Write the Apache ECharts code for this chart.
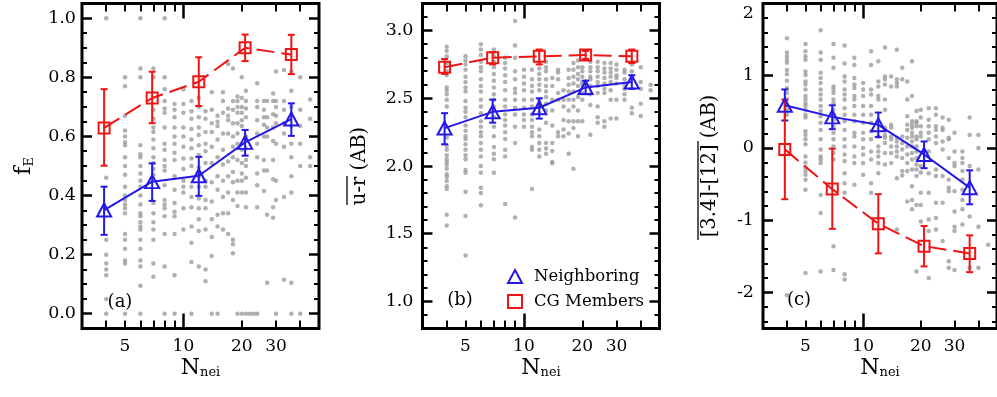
<!DOCTYPE html>
<html><head><meta charset="utf-8">
<script src="https://cdn.jsdelivr.net/npm/echarts@6/dist/echarts.min.js"></script>
<style>html,body{margin:0;padding:0;background:#fff}#c{width:997px;height:397px}</style>
</head><body><div id="c"></div>
<script>
// ---------------- data ----------------
const binN = [3.9, 6.9, 12, 20.8, 36];

const neiA = [0.351, 0.447, 0.467, 0.580, 0.659];
const neiAHi = [0.430, 0.509, 0.531, 0.622, 0.712];
const neiALo = [0.267, 0.382, 0.399, 0.535, 0.602];
const cgA = [0.629, 0.730, 0.785, 0.900, 0.877];
const cgAHi = [0.760, 0.819, 0.868, 0.945, 0.944];
const cgALo = [0.501, 0.645, 0.703, 0.855, 0.811];

const neiB = [2.28, 2.40, 2.43, 2.58, 2.62];
const neiBHi = [2.39, 2.49, 2.50, 2.63, 2.67];
const neiBLo = [2.16, 2.32, 2.35, 2.53, 2.57];
const cgB = [2.73, 2.80, 2.81, 2.82, 2.81];
const cgBHi = [2.79, 2.84, 2.86, 2.85, 2.86];
const cgBLo = [2.68, 2.75, 2.75, 2.79, 2.76];

const neiC = [0.59, 0.43, 0.32, -0.09, -0.55];
const neiCHi = [0.81, 0.59, 0.49, 0.09, -0.31];
const neiCLo = [0.38, 0.26, 0.15, -0.28, -0.78];
const cgC = [-0.02, -0.57, -1.05, -1.36, -1.46];
const cgCHi = [0.67, -0.01, -0.64, -1.08, -1.21];
const cgCLo = [-0.71, -1.12, -1.46, -1.64, -1.72];

// individual groups: [N_nei, [values...]]
const grayA = [
[4,[1.0,0.46,0.25,0.20,0.17,0.15,0.13,0.05,0.0]],
[5,[0.80,0.77,0.67,0.62,0.60,0.58,0.57,0.53,0.50,0.47,0.43,0.40,0.385,0.37,0.357,0.34,0.27,0.25,0.22,0.18,0.17,0.0]],
[6,[1.0,0.83,0.80,0.57,0.54,0.53,0.50,0.475,0.45,0.43,0.40,0.37,0.34,0.33,0.31,0.295,0.285,0.25,0.22,0.18,0.16,0.095,0.0]],
[7,[0.83,0.80,0.69,0.66,0.63,0.615,0.59,0.56,0.53,0.51,0.49,0.47,0.375,0.34,0.31,0.285,0.25,0.17,0.125]],
[8,[1.0,0.80,0.76,0.72,0.695,0.68,0.63,0.575,0.555,0.52,0.50,0.485,0.435,0.385,0.37,0.357,0.33,0.27,0.16,0.0]],
[9,[0.71,0.69,0.665,0.63,0.60,0.575,0.545,0.52,0.465,0.42,0.375,0.345,0.33,0.27,0.13,0.0]],
[10,[0.76,0.71,0.68,0.63,0.60,0.565,0.525,0.49,0.45,0.43,0.41,0.357,0.285]],
[11,[0.72,0.685,0.66,0.625,0.59,0.56,0.525,0.50,0.43,0.395,0.36,0.295,0.24,0.175,0.0]],
[12,[0.73,0.70,0.665,0.63,0.605,0.57,0.537,0.495,0.465,0.43,0.39,0.357,0.32,0.28,0.16]],
[13,[0.685,0.66,0.615,0.575,0.55,0.51,0.45,0.43,0.385,0.357,0.285,0.15,0.11]],
[14,[0.75,0.69,0.645,0.615,0.565,0.51,0.445,0.38,0.32,0.26,0.195,0.0]],
[15,[0.67,0.65,0.635,0.59,0.53,0.465,0.42,0.335,0.295,0.0]],
[16,[0.75,0.72,0.68,0.61,0.555,0.505,0.45,0.395,0.34,0.285]],
[17,[0.845,0.695,0.67,0.655,0.61,0.515,0.465,0.41,0.34,0.27]],
[18,[0.83,0.72,0.69,0.645,0.60,0.565,0.53,0.48,0.445,0.385,0.25,0.235,0.205]],
[19,[0.735,0.72,0.70,0.68,0.645,0.61,0.575,0.52,0.45,0.41,0.365,0.0]],
[20,[0.80,0.73,0.70,0.68,0.655,0.635,0.555,0.51,0.475,0.45,0.41,0.0]],
[21,[0.755,0.72,0.695,0.665,0.60,0.56,0.52,0.50,0.46,0.41,0.36,0.0]],
[22,[0.0]],[23,[0.0]],
[24,[0.78,0.72,0.70,0.655,0.61,0.575,0.53,0.475,0.435,0.36,0.0]],
[26,[0.72,0.69,0.665,0.64,0.60,0.52,0.485,0.415]],
[27,[0.72,0.665,0.63,0.60,0.485,0.335,0.105]],
[29,[0.745,0.72,0.675,0.63,0.585,0.52,0.455,0.36,0.325]],
[30,[0.82,0.72,0.70,0.67,0.645,0.575,0.45,0.385,0.0]],
[33,[0.825,0.72,0.69,0.645,0.61,0.565,0.395,0.115]],
[36,[0.82,0.755,0.70,0.635,0.575,0.53,0.465,0.41,0.105,0.0]],
[40,[0.80,0.69,0.635,0.575,0.50,0.0]],
[45,[0.725,0.66,0.53,0.50]]
];
const grayB = [
[4,[2.88,2.85,2.81,2.76,2.70,2.67,2.58,2.56,2.53,2.49,2.44,2.21,2.15,2.12,2.08,2.05,2.03,2.01,1.98,1.94,1.92,1.89,1.85,1.83,1.64,1.56]],
[5,[2.81,2.78,2.75,2.71,2.66,2.62,2.58,2.55,2.48,2.43,2.40,2.36,2.30,2.26,2.22,2.20,2.16,2.12,2.08,2.05,1.97,1.95,1.81,1.63,1.34]],
[6,[2.90,2.86,2.82,2.77,2.73,2.70,2.64,2.59,2.55,2.49,2.44,2.39,2.33,2.29,2.25,2.22,2.17,2.12,2.07,2.00,1.95,1.84,1.80,1.71]],
[7,[2.86,2.81,2.77,2.73,2.68,2.63,2.58,2.53,2.49,2.44,2.36,2.29,2.22,2.14,2.09,2.05,1.95]],
[8,[2.80,2.76,2.72,2.67,2.62,2.56,2.49,2.44,2.38,2.34,2.30,2.25,2.20,2.12,2.07,1.72]],
[9,[3.07,2.89,2.80,2.70,2.64,2.57,2.54,2.49,2.43,2.38,2.29,2.17,1.62]],
[10,[2.71,2.66,2.61,2.56,2.49,2.43,2.38,2.34,2.29]],
[11,[2.71,2.64,2.59,2.55,2.49,2.44,2.38,2.34,2.29,2.25,2.22,2.14,2.12,1.83]],
[12,[2.76,2.72,2.68,2.64,2.60,2.56,2.49,2.45,2.39,2.27,2.22,2.17,2.12,2.07]],
[13,[2.77,2.73,2.70,2.64,2.59,2.55,2.51,2.46,2.41,2.32,2.17,2.13,2.09]],
[14,[2.65,2.59,2.49,2.41,2.30,2.17,2.11,2.03,2.02]],
[15,[2.71,2.69,2.64,2.54,2.49,2.25,2.22]],
[16,[2.56,2.49,2.44,2.34,2.27,2.22]],
[17,[2.71,2.65,2.60,2.55,2.49,2.41,2.33,2.24,2.09]],
[18,[2.76,2.71,2.66,2.61,2.55,2.49,2.44,2.33,2.28,1.98]],
[19,[2.78,2.73,2.68,2.64,2.59,2.51,2.41,2.33,2.22]],
[20,[2.73,2.70,2.66,2.62,2.60,2.54,2.49,2.33]],
[22,[2.77,2.73,2.70,2.66,2.64,2.59,2.53,2.45,2.23]],
[24,[2.77,2.73,2.70,2.66,2.62,2.59,2.54,2.44,2.36,2.32]],
[26,[2.76,2.72,2.69,2.65,2.61,2.57,2.54,2.33,2.29]],
[28,[2.76,2.72,2.69,2.66,2.62,2.56,2.49,2.35]],
[30,[2.75,2.71,2.67,2.65,2.61,2.49,2.35]],
[33,[2.71,2.69,2.64,2.60,2.57,2.53,2.49]],
[36,[2.75,2.70,2.66,2.43,2.39]],
[40,[2.73,2.62,2.57,2.46,2.37]],
[45,[2.60,2.56]]
];
const grayC = [
[4,[1.52,1.32,1.27,1.22,1.18,1.08,1.02,0.93,0.83,0.76,0.67,0.60,0.53,0.46,-2.04]],
[5,[1.44,1.34,1.27,1.22,1.06,1.01,0.92,0.88,0.81,0.72,0.67,0.62,0.58,0.53,0.46,0.42,0.23,0.18,0.12,0.05,-0.12,-0.20,-0.27,-0.32,-0.37,-0.44,-0.58,-1.73]],
[6,[1.63,1.32,1.22,1.04,0.97,0.90,0.81,0.74,0.67,0.58,0.51,0.44,0.35,0.25,0.12,-0.02,-0.12,-0.16,-0.21,-0.65,-0.90,-1.71]],
[7,[1.44,1.25,1.11,0.85,0.81,0.76,0.67,0.62,0.53,0.46,0.39,0.30,0.21,0.12,0.02,-0.07,-0.16,-1.36,-1.69]],
[8,[1.42,1.17,0.99,0.92,0.81,0.74,0.67,0.55,0.46,0.37,0.25,0.12,0.02,-0.09,-0.18,-0.35,-0.49,-0.62,-1.75,-1.82]],
[9,[1.25,1.15,0.97,0.88,0.83,0.72,0.67,0.58,0.46,0.37,0.21,0.16,0.02,-0.12,-0.21,-0.51]],
[10,[0.90,0.81,0.72,0.58,0.46,0.35,0.21,0.12,0.0,-0.09,-0.21,-0.37]],
[11,[1.34,1.15,0.81,0.74,0.58,0.46,0.35,0.23,0.12,-0.05,-0.16,-0.49,-0.62]],
[12,[1.20,0.92,0.85,0.72,0.67,0.16,0.02,-0.05,-0.12,-0.21,-0.35]],
[13,[1.39,0.99,0.95,0.88,0.67,0.53,0.28,0.18,0.14,0.07,-0.07,-0.23]],
[14,[0.99,0.85,0.32,0.28,0.16,0.12,0.02,-0.07,-0.21]],
[15,[1.36,0.95,0.90,0.85,0.14,0.09,0.02,-0.05,-0.12,-0.42,-1.13]],
[16,[1.11,0.95,0.16,0.07,-0.02,-0.14,-0.32,-0.38]],
[17,[0.92,0.67,0.44,0.32,0.25,0.14,0.02,-0.09,-0.21,-0.32,-0.74]],
[18,[1.20,0.72,0.37,0.32,0.28,0.21,0.16,0.09,0.02,-0.07,-0.16,-0.30,-0.53,-0.72,-0.85]],
[19,[0.51,0.37,0.35,0.30,0.16,0.12,0.02,-0.05,-0.14,-0.23,-0.30,-0.39,-0.79,-1.71]],
[20,[0.53,0.42,0.30,0.21,0.16,-0.25,-0.34,-0.62,-0.79,-1.02]],
[22,[0.55,0.39,0.30,0.21,0.12,-0.05,-0.35,-0.62,-0.99,-1.15,-1.80]],
[24,[0.55,0.46,0.30,0.25,0.16,0.07,-0.30,-0.39,-0.76,-0.97,-1.13]],
[26,[0.42,0.28,0.25,0.09,-0.02,-0.39,-0.76,-1.29]],
[28,[0.39,0.14,0.12,-0.14,-0.44,-0.55,-0.60,-1.57,-1.66]],
[30,[0.21,-0.05,-0.21,-0.25,-0.60,-0.88,-1.09,-1.15,-1.69]],
[33,[-0.05,-0.14,-0.21,-0.32,-0.44,-0.58,-0.72,-0.85,-1.06]],
[36,[0.42,0.18,-0.25,-0.95,-1.66]],
[40,[0.18,0.0,-0.30,-1.09,-1.66]],
[45,[-1.34]]
];

// ticks / labels
const xTicksShort = [4, 5, 6, 7, 8, 9, 20, 30, 40];
const xTicksLong = [10];
const xLabels = [5, 10, 20, 30];
const yMajorA = [0, 0.2, 0.4, 0.6, 0.8, 1.0];
const yMinorA = [0.05,0.1,0.15,0.25,0.3,0.35,0.45,0.5,0.55,0.65,0.7,0.75,0.85,0.9,0.95];
const yMajorB = [1.0, 1.5, 2.0, 2.5, 3.0];
const yMinorB = [0.9,1.1,1.2,1.3,1.4,1.6,1.7,1.8,1.9,2.1,2.2,2.3,2.4,2.6,2.7,2.8,2.9,3.1];
const yMajorC = [-2, -1, 0, 1, 2];
const yMinorC = [-2.4,-2.2,-1.8,-1.6,-1.4,-1.2,-0.8,-0.6,-0.4,-0.2,0.2,0.4,0.6,0.8,1.2,1.4,1.6,1.8];

// ---------------- build ----------------
const FONT = '"DejaVu Serif", serif';
const BLUE = '#2418e6', RED = '#f01414', GRAY = '#9c9c9c';
const L = v => Math.log10(v);

const panels = [
  {left: 82, yMin: -0.05, yMax: 1.05, major: yMajorA, minor: yMinorA, fmt: v => v.toFixed(1), lblMargin: 6,
   name: '{f|f}{s|E}', nameGap: 46, gray: grayA, nei: [neiA, neiALo, neiAHi], cg: [cgA, cgALo, cgAHi]},
  {left: 422.5, yMin: 0.8, yMax: 3.2, major: yMajorB, minor: yMinorB, fmt: v => v.toFixed(1), lblMargin: 9,
   name: '{t|u-r (AB)}', nameGap: 52, gray: grayB, nei: [neiB, neiBLo, neiBHi], cg: [cgB, cgBLo, cgBHi]},
  {left: 763, yMin: -2.5, yMax: 2, major: yMajorC, minor: yMinorC, fmt: v => (v === 2 ? '{top|2}' : String(v)), lblMargin: 9,
   name: '{t|[3.4]-[12] (AB)}', nameGap: 42, gray: grayC, nei: [neiC, neiCLo, neiCHi], cg: [cgC, cgCLo, cgCHi]}
];

const grids = [], xAxes = [], yAxes = [], series = [];
const nameRich = {
  f: {fontFamily: FONT, fontSize: 23, lineHeight: 26, verticalAlign: 'bottom', color: '#000'},
  s: {fontFamily: FONT, fontSize: 13, lineHeight: 8, verticalAlign: 'bottom', color: '#000'},
  N: {fontFamily: FONT, fontSize: 22, lineHeight: 24, verticalAlign: 'bottom', color: '#000'},
  t: {fontFamily: FONT, fontSize: 19.5, lineHeight: 22, color: '#000'}
};

function errRender(color) {
  return function (params, api) {
    const x = api.value(0), lo = api.value(1), hi = api.value(2);
    const a = api.coord([x, lo]), b = api.coord([x, hi]);
    const cw = 3.5;
    const st = {stroke: color, lineWidth: 2, fill: null};
    return {type: 'group', children: [
      {type: 'line', shape: {x1: a[0], y1: a[1], x2: b[0], y2: b[1]}, style: st},
      {type: 'line', shape: {x1: a[0] - cw, y1: a[1], x2: a[0] + cw, y2: a[1]}, style: st},
      {type: 'line', shape: {x1: b[0] - cw, y1: b[1], x2: b[0] + cw, y2: b[1]}, style: st}
    ]};
  };
}

panels.forEach((p, i) => {
  grids.push({left: p.left, top: 3.5, width: 237, height: 325, show: true,
    borderColor: '#000', borderWidth: 3, backgroundColor: 'transparent', z: 10});
  const xb = {type: 'value', gridIndex: i, min: L(3), max: L(50), nameMoveOverlap: false,
    axisLine: {show: false, onZero: false}, splitLine: {show: false}, axisLabel: {show: false}};
  const tk = (vals, len, w) => ({show: true, inside: true, length: len, customValues: vals.map(L),
    lineStyle: {color: '#000', width: w}});
  xAxes.push(Object.assign({}, xb, {position: 'bottom', axisTick: tk(xTicksShort, 8, 2),
    axisLabel: {show: true, customValues: xLabels.map(L), formatter: v => String(Math.round(Math.pow(10, v))),
      margin: 10, fontFamily: FONT, fontSize: 17, color: '#000'},
    name: '{N|N}{s|nei}', nameLocation: 'middle', nameGap: 27, nameTextStyle: {rich: nameRich}}));
  xAxes.push(Object.assign({}, xb, {position: 'bottom', axisTick: tk(xTicksLong, 15, 2.5)}));
  xAxes.push(Object.assign({}, xb, {position: 'top', axisTick: tk(xTicksShort, 8, 2)}));
  xAxes.push(Object.assign({}, xb, {position: 'top', axisTick: tk(xTicksLong, 15, 2.5)}));

  const yb = {type: 'value', gridIndex: i, min: p.yMin, max: p.yMax, nameMoveOverlap: false,
    axisLine: {show: false, onZero: false}, splitLine: {show: false}, axisLabel: {show: false}};
  const ytk = (vals, len, w) => ({show: true, inside: true, length: len, customValues: vals,
    lineStyle: {color: '#000', width: w}});
  yAxes.push(Object.assign({}, yb, {position: 'left', axisTick: ytk(p.major, 10, 2.5),
    axisLabel: {show: true, customValues: p.major, formatter: p.fmt, margin: p.lblMargin,
      fontFamily: FONT, fontSize: 17.5, color: '#000',
      rich: {top: {fontFamily: FONT, fontSize: 17.5, color: '#000', padding: [20, 0, 0, 0]}}},
    name: p.name, nameLocation: 'middle', nameGap: p.nameGap, nameTextStyle: {rich: nameRich}}));
  yAxes.push(Object.assign({}, yb, {position: 'left', axisTick: ytk(p.minor, 5, 2)}));
  yAxes.push(Object.assign({}, yb, {position: 'right', axisTick: ytk(p.major, 10, 2.5)}));
  yAxes.push(Object.assign({}, yb, {position: 'right', axisTick: ytk(p.minor, 5, 2)}));

  const xi = i * 4, yi = i * 4;
  const pts = [];
  p.gray.forEach(([n, vals]) => vals.forEach(v => pts.push([L(n), v])));
  series.push({type: 'scatter', name: 'groups', xAxisIndex: xi, yAxisIndex: yi, data: pts,
    symbolSize: 4.5, itemStyle: {color: GRAY}, silent: true, z: 1});

  [[p.nei, BLUE, 'Neighboring', 'triangle', [14, 13], 'solid'],
   [p.cg, RED, 'CG Members', 'rect', 11, [18, 7]]].forEach(([d, col, nm, sym, sz, lt]) => {
    series.push({type: 'custom', name: nm + ' err', xAxisIndex: xi, yAxisIndex: yi,
      data: binN.map((n, k) => [L(n), d[1][k], d[2][k]]), encode: {x: 0, y: [1, 2]},
      renderItem: errRender(col), silent: true, z: 3});
    series.push({type: 'line', name: nm, xAxisIndex: xi, yAxisIndex: yi,
      data: binN.map((n, k) => [L(n), d[0][k]]), symbol: sym, symbolSize: sz,
      itemStyle: {color: 'rgba(0,0,0,0)', borderColor: col, borderWidth: 2},
      lineStyle: {color: col, width: 2, type: lt}, silent: true, z: 4});
  });
});

const chart = echarts.init(document.getElementById('c'), null, {renderer: 'canvas'});
chart.setOption({
  animation: false,
  backgroundColor: '#fff',
  grid: grids, xAxis: xAxes, yAxis: yAxes, series: series,
  legend: {left: 507, top: 268, padding: 0, orient: 'vertical', itemWidth: 14, itemHeight: 13, itemGap: 8,
    selectedMode: false,
    textStyle: {fontFamily: FONT, fontSize: 16.5, color: '#000', lineHeight: 17, padding: [0, 0, 0, 7]},
    data: [
      {name: 'Neighboring', icon: 'triangle', itemStyle: {color: 'rgba(0,0,0,0)', borderColor: BLUE, borderWidth: 2}},
      {name: 'CG Members', icon: 'rect', itemStyle: {color: 'rgba(0,0,0,0)', borderColor: RED, borderWidth: 2}}
    ]},
  graphic: [
    {type: 'text', x: 120, y: 302, style: {text: '(a)', font: '18px "DejaVu Serif"', fill: '#000', align: 'center', verticalAlign: 'middle', textAlign: 'center', textVerticalAlign: 'middle'}},
    {type: 'text', x: 460, y: 300, style: {text: '(b)', font: '18px "DejaVu Serif"', fill: '#000', align: 'center', verticalAlign: 'middle', textAlign: 'center', textVerticalAlign: 'middle'}},
    {type: 'text', x: 799, y: 300, style: {text: '(c)', font: '18px "DejaVu Serif"', fill: '#000', align: 'center', verticalAlign: 'middle', textAlign: 'center', textVerticalAlign: 'middle'}},
    {type: 'line', shape: {x1: 347, y1: 176, x2: 347, y2: 205}, style: {stroke: '#000', lineWidth: 1.3}},
    {type: 'line', shape: {x1: 698, y1: 141, x2: 698, y2: 240}, style: {stroke: '#000', lineWidth: 1.3}}
  ]
});
</script>
</body></html>
